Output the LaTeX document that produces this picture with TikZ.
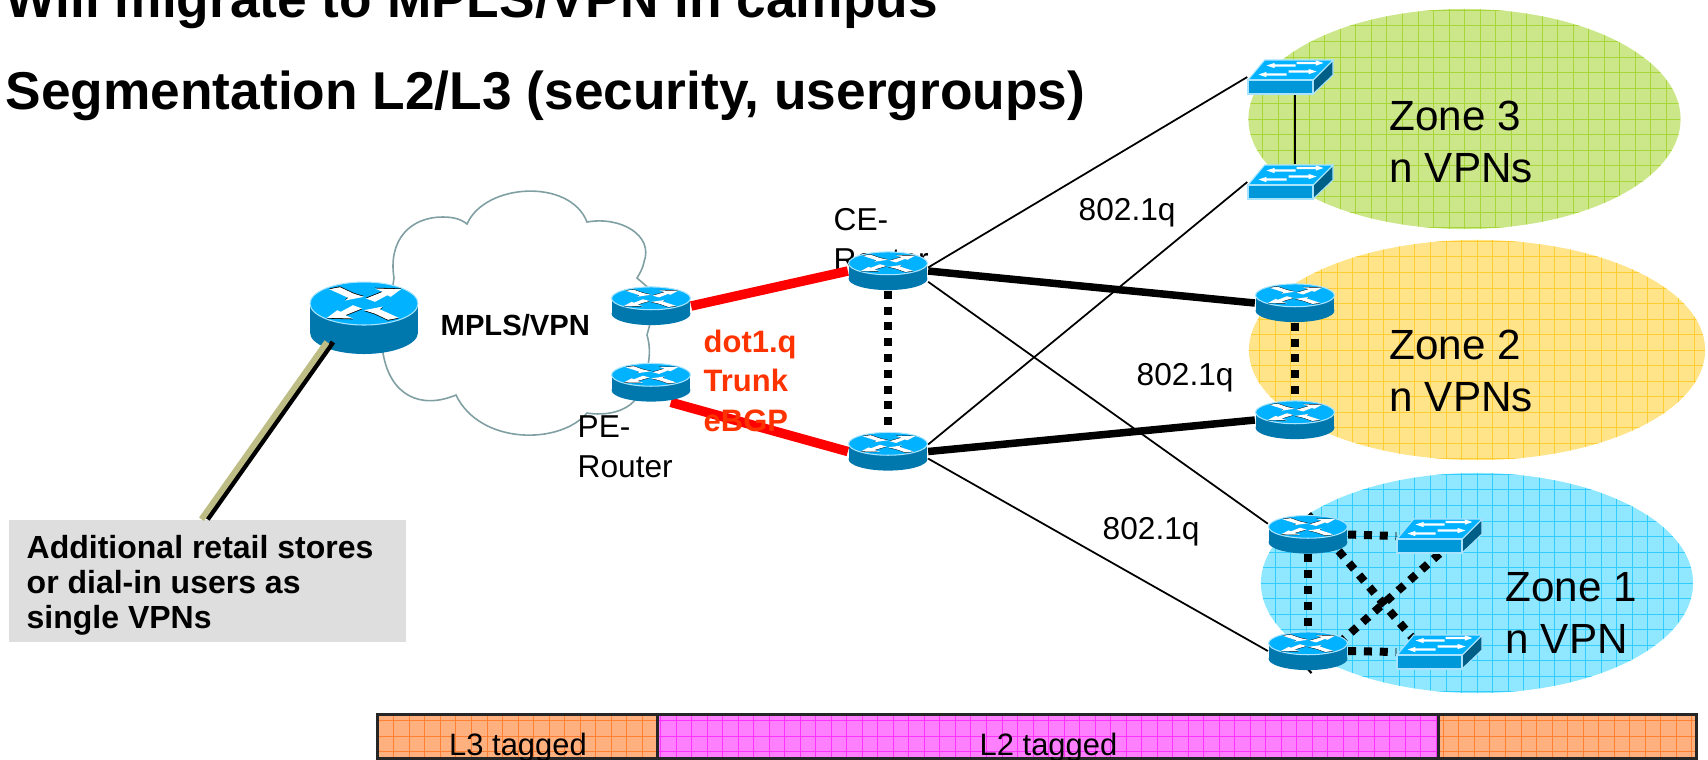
\documentclass[tikz,border=0pt]{standalone}
\usepackage{fontspec}
\setmainfont{Liberation Sans}
\usetikzlibrary{shapes.geometric,backgrounds}
\definecolor{routertopc}{HTML}{00B2FF}
\definecolor{routersidec}{HTML}{0078AE}
\definecolor{switchfrontc}{HTML}{0098D8}
\definecolor{switchsidec}{HTML}{005F87}
\definecolor{rimc}{HTML}{A8E4FF}
\definecolor{cloudc}{HTML}{7F9FA3}
\definecolor{labelred}{HTML}{FF3300}
\definecolor{khakic}{HTML}{BDBD85}
\definecolor{greenfill}{HTML}{CCE68A}
\definecolor{greengrid}{HTML}{A8D63A}
\definecolor{yellowfill}{HTML}{FFE48A}
\definecolor{yellowgrid}{HTML}{FFCC33}
\definecolor{bluefill}{HTML}{8FE8FF}
\definecolor{bluegrid}{HTML}{33CCFF}
\definecolor{orangefill}{HTML}{FFB07F}
\definecolor{orangegrid}{HTML}{FF8033}
\definecolor{pinkfill}{HTML}{FF80FF}
\definecolor{pinkgrid}{HTML}{FF33FF}
\tikzset{
	gridfill/.style 2 args={fill=#1,path picture={\draw[#2,line width=.27pt,step=.155cm] (path picture bounding box.south west) grid (path picture bounding box.north east);}},
	zone/.style={ellipse,inner sep=0,minimum width=4.32cm,minimum height=2.2cm},
	barcell/.style={rectangle,draw=black!85,line width=.03cm,inner sep=0,minimum height=.44cm},
	lbl/.style={anchor=base west,inner sep=0,align=left,font=\fontsize{9}{11.1}\selectfont},
	zonelbl/.style={lbl,font=\fontsize{12}{14.7}\selectfont},
	trunk/.style={red,line width=.095cm},
	uplink/.style={black,line width=.075cm},
	thinlink/.style={black,line width=.5pt},
	dotlink/.style={black,line width=.08cm,dash pattern=on .08cm off .078cm}
}
\newcommand{\router}[5]{
	\begin{scope}[shift={(#2,#3)},xscale=#4,yscale=#5]
		\fill[routersidec] (-54,-14.5) rectangle (54,14.5);
		\fill[routersidec] (0,14.5) ellipse (54 and 21.5);
		\filldraw[fill=routertopc,draw=rimc,line width=.3pt] (0,-14.5) ellipse (54 and 21.5);
		\foreach \turn in {0,180} {
			\begin{scope}[shift={(0,-14.5)},rotate=\turn]
				\fill[black,shift={(0,-.8)}] (-34.7,-14.3) -- (-24,-16.3) -- (-10.7,-10) -- (0,-6.7) -- (-19,-3) -- (-15.7,-5.7) -- cycle;
				\fill[black,shift={(0,-.8)}] (2,-5) -- (18.7,-11.7) -- (11,-15) -- (37,-14.3) -- (26.7,-6.7) -- (23.3,-8.3) -- (11,-1.7) -- cycle;
				\fill[white] (-34.7,-14.3) -- (-24,-16.3) -- (-10.7,-10) -- (0,-6.7) -- (-19,-3) -- (-15.7,-5.7) -- cycle;
				\fill[white] (2,-5) -- (18.7,-11.7) -- (11,-15) -- (37,-14.3) -- (26.7,-6.7) -- (23.3,-8.3) -- (11,-1.7) -- cycle;
			\end{scope}
		}
	\end{scope}
	\node[inner sep=0,minimum width={#4*1.08cm},minimum height={#5*.72cm}] (#1) at (#2,#3) {};
}
\newcommand{\switchbox}[3]{
	\begin{scope}[shift={(#2,#3)}]
		\filldraw[fill=switchsidec,draw=rimc,line width=.3pt] (22.5,3) -- (42.5,-17) -- (42.5,-2) -- (22.5,17) -- cycle;
		\filldraw[fill=routertopc,draw=rimc,line width=.3pt] (-42.5,3) -- (-25.8,-17) -- (42.5,-17) -- (22.5,3) -- cycle;
		\filldraw[fill=switchfrontc,draw=rimc,line width=.3pt] (-42.5,3) rectangle (22.5,17);
		\foreach \tx/\ty/\len in {5/-11.5/-29,6/-14/27,-4/-2.5/-28,-2/-5.5/28} {
			\fill[white,shift={(\tx,\ty)},xscale=\len] (0,-1.1) -- (.72,-1.1) -- (.72,-2.6) -- (1,0) -- (.72,2.6) -- (.72,1.1) -- (0,1.1) -- cycle;
		}
	\end{scope}
	\node[inner sep=0,minimum width=.85cm,minimum height=.34cm] (#1) at (#2,#3) {};
}

\begin{document}
\begin{tikzpicture}[x=.01cm,y=-.01cm]
	\useasboundingbox (0,0) rectangle (1708,759);

	% devices
	\router{bigrouter}{364}{318}{1}{1}
	\router{perouterA}{651}{306}{.73}{.53}
	\router{perouterB}{651}{382.5}{.73}{.53}
	\router{cerouterA}{888}{271}{.73}{.53}
	\router{cerouterB}{888}{451.5}{.73}{.53}
	\router{ztwoA}{1295}{303}{.73}{.53}
	\router{ztwoB}{1295}{420}{.73}{.53}
	\router{zoneA}{1308}{534.5}{.73}{.53}
	\router{zoneB}{1308}{651}{.73}{.53}
	\switchbox{zthreeA}{1290.5}{77}
	\switchbox{zthreeB}{1290.5}{182}
	\switchbox{zoneC}{1439.5}{536}
	\switchbox{zoneD}{1439.5}{652}

	\begin{scope}[on background layer]
		\node[zone,gridfill={greenfill}{greengrid}] (zone3) at (1464.5,119) {};
		\node[zone,minimum width=4.56cm,gridfill={yellowfill}{yellowgrid}] (zone2) at (1477,350) {};
		\node[zone,gridfill={bluefill}{bluegrid}] (zone1) at (1477,583) {};

		\draw[cloudc,line width=.45pt] (394,278) .. controls (388,240) and (410,217) .. (443,217) .. controls (453,217) and (461,219) .. (467,224)
			.. controls (485,183) and (570,178) .. (587,222)
			.. controls (620,216) and (654,235) .. (644,262) .. controls (643,268) and (640,273) .. (637,278)
			-- (651,290) -- (651,320) -- (647,335) .. controls (650,345) and (650,355) .. (648,365) -- (635,400)
			.. controls (625,412) and (605,416) .. (587,413)
			.. controls (560,445) and (480,445) .. (456,395)
			.. controls (420,410) and (390,395) .. (383,353) -- cycle;

		\node[lbl] (celabel) at (833,270) {CE-\\Router};

		\draw[trunk] (perouterA.east) -- (cerouterA.west);
		\draw[trunk] (perouterB.-45) -- (cerouterB.west);
		\draw[uplink] (cerouterA.east) -- (ztwoA.west);
		\draw[uplink] (cerouterB.east) -- (ztwoB.west);
		\draw[thinlink] (cerouterA.5) -- (zthreeA.west);
		\draw[thinlink] (cerouterB.10) -- (zthreeB.west);
		\draw[thinlink] (cerouterA.-15) -- (zoneA.165);
		\draw[thinlink] (cerouterB.-10) -- (zoneB.west);
		\draw[thinlink] ([xshift=.045cm]zthreeA.south) -- ([xshift=.045cm]zthreeB.north);
		\draw[dotlink] (cerouterA.south) -- (cerouterB.north);
		\draw[dotlink] (ztwoA.south) -- (ztwoB.north);
		\draw[dotlink] (zoneA.south) -- (zoneB.north);
		\draw[dotlink] (zoneA.east) -- (zoneC.west);
		\draw[dotlink] (zoneB.east) -- (zoneD.west);
		\draw[dotlink] (zoneA.north) -- (zoneD.south);
		\draw[dotlink] (zoneC.south) -- (zoneB.south);
	\end{scope}

	% retail stores box and its line
	\node[rectangle,fill=black!13,inner sep=0,minimum width=3.97cm,minimum height=1.22cm] (addbox) at (207.5,581) {};
	\coordinate (uplinkend) at (333,342);
	\draw[black,line width=.05cm] (uplinkend) -- (addbox.north);
	\draw[khakic,line width=.06cm] ([xshift=-.06cm]uplinkend) -- ([xshift=-.06cm]addbox.north);

	% bar at the bottom
	\node[barcell,minimum width=2.8cm,gridfill={orangefill}{orangegrid}] (l3cell) at (518,736) {};
	\node[barcell,minimum width=7.81cm,gridfill={pinkfill}{pinkgrid}] (l2cell) at (1048.5,736) {};
	\node[barcell,minimum width=2.57cm,gridfill={orangefill}{orangegrid}] (endcell) at (1567.5,736) {};

	% texts
	\node[lbl,font=\bfseries\fontsize{15.15}{18}\selectfont] (titleA) at (5,17) {Will migrate to MPLS/VPN in campus};
	\node[lbl,font=\bfseries\fontsize{15.15}{18}\selectfont] (titleB) at (5,109) {Segmentation L2/L3 (security, usergroups)};
	\node[lbl,font=\bfseries\fontsize{8.3}{10}\selectfont] (mpls) at (440,335) {MPLS/VPN};
	\node[lbl,font=\bfseries\fontsize{8.8}{11.1}\selectfont,text=labelred] (dotq) at (703,431) {dot1.q\\Trunk\\eBGP};
	\node[lbl] (pelabel) at (577,477) {PE-\\Router};
	\node[lbl] (dotqA) at (1078,220) {802.1q};
	\node[lbl] (dotqB) at (1136,385) {802.1q};
	\node[lbl] (dotqC) at (1102,539) {802.1q};
	\node[zonelbl] (zthreelbl) at (1389,182) {Zone 3\\n VPNs};
	\node[zonelbl] (ztwolbl) at (1389,411) {Zone 2\\n VPNs};
	\node[zonelbl] (zonelbl) at (1505,653) {Zone 1\\n VPN};
	\node[lbl,font=\bfseries\fontsize{9.1}{10}\selectfont] (addtext) at (26,628.5) {Additional retail stores\\or dial-in users as\\single VPNs};
	\node[lbl,anchor=base,font=\fontsize{8.8}{10}\selectfont] (l3text) at (l3cell.center |- 0,755) {L3 tagged};
	\node[lbl,anchor=base,font=\fontsize{8.8}{10}\selectfont] (l2text) at (l2cell.center |- 0,755) {L2 tagged};
\end{tikzpicture}
\end{document}
